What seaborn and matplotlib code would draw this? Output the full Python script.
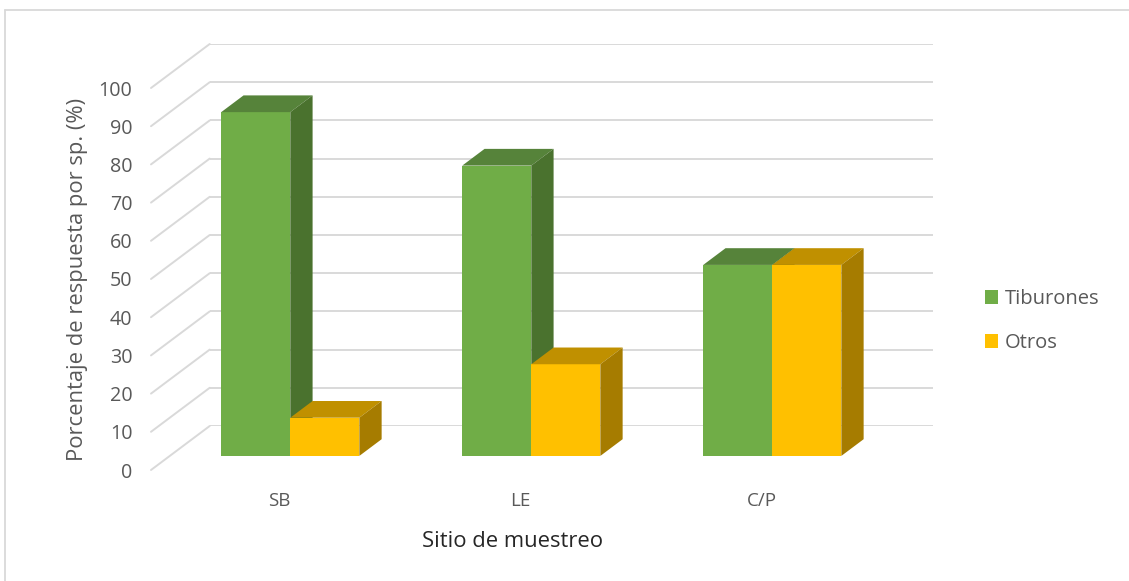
import matplotlib
matplotlib.use("Agg")
import matplotlib.pyplot as plt
from matplotlib.patches import Polygon, Patch
from matplotlib.lines import Line2D
from matplotlib.transforms import ScaledTranslation
import seaborn as sns
import pandas as pd

# Data
sitios = ["SB", "LE", "C/P"]
tiburones = [90, 76, 50]
otros = [10, 24, 50]
grupos = ["Tiburones", "Otros"]
yticks = list(range(0, 101, 10))

sns.set_theme(style="white")
plt.rcParams["font.family"] = ["Open Sans", "DejaVu Sans"]

W, H, DPI = 1129, 581, 100
fig = plt.figure(figsize=(W / DPI, H / DPI), dpi=DPI)
fig.patch.set_facecolor("white")

# colours: front, top, side
faces = {
    "Tiburones": ("#70AD47", "#56833A", "#4A722E"),
    "Otros": ("#FFC000", "#C09000", "#A67C00"),
}
grid_c = "#D9D9D9"
tick_c = "#595959"

# oblique 3-D layout (pixels)
PX_W, PX_H = 723, 382            # plot plane size
FRONT = (151, 470)               # lower-left of front plane
DEPTH = (58.7, -44.0)            # full floor depth shift
BAR_D0, BAR_D1 = 0.32, 0.70      # bar front / back depth fractions


def plane_axes(d, zorder):
    x0 = FRONT[0] + DEPTH[0] * d
    y0 = FRONT[1] + DEPTH[1] * d
    ax = fig.add_axes([x0 / W, 1 - y0 / H, PX_W / W, PX_H / H], zorder=zorder)
    ax.set_xlim(-0.5, 2.5)
    ax.set_ylim(0, 100)
    ax.patch.set_alpha(0)
    for s in ax.spines.values():
        s.set_visible(False)
    return ax


ax_back = plane_axes(1.0, 0)
ax_front = plane_axes(0.0, 1)
ax_bars = plane_axes(BAR_D0, 2)

# back wall grid
ax_back.set_yticks(yticks)
ax_back.set_xticks([])
ax_back.tick_params(left=False, labelleft=False, bottom=False, labelbottom=False)
ax_back.yaxis.grid(True, color=grid_c, lw=1.4)
ax_back.xaxis.grid(False)

# side wall diagonals (front plane data units)
ddx_full = DEPTH[0] / (PX_W / 3)
ddy_full = -DEPTH[1] / (PX_H / 100)
for v in yticks:
    ax_front.add_line(Line2D([-0.5, -0.5 + ddx_full], [v, v + ddy_full],
                             color=grid_c, lw=1.4, clip_on=False))

# axis labels and ticks on the front plane
ax_front.set_yticks(yticks)
ax_front.set_yticklabels([str(v) for v in yticks])
ax_front.set_xticks(range(len(sitios)))
ax_front.set_xticklabels(sitios)
ax_front.tick_params(axis="y", length=0, pad=13.5, labelsize=14.2, labelcolor=tick_c)
ax_front.tick_params(axis="x", length=0, pad=16, labelsize=13.5, labelcolor=tick_c)
ax_front.grid(False)
shift = ScaledTranslation(8 / DPI, 0, fig.dpi_scale_trans)
for lab in ax_front.get_xticklabels():
    lab.set_transform(lab.get_transform() + shift)
ax_front.set_ylabel("Porcentaje de respuesta por sp. (%)", fontsize=15.8, color=tick_c)
ax_front.yaxis.set_label_coords(-0.087, 0.5)
ax_front.set_xlabel("Sitio de muestreo", fontsize=15.8, color="#262626")
ax_front.xaxis.set_label_coords(0.5, -0.16)

# bars
df = pd.DataFrame({
    "Sitio": sitios * 2,
    "Porcentaje": tiburones + otros,
    "Grupo": [grupos[0]] * len(sitios) + [grupos[1]] * len(sitios),
})
sns.barplot(data=df, x="Sitio", y="Porcentaje", hue="Grupo", order=sitios,
            hue_order=grupos, palette=[faces[g][0] for g in grupos],
            saturation=1, width=0.573, gap=0, dodge=True, legend=False,
            linewidth=0, ax=ax_bars)
ax_bars.set_xlim(-0.5, 2.5)
ax_bars.set_ylim(0, 100)
ax_bars.axis("off")

bdx = (BAR_D1 - BAR_D0) * ddx_full
bdy = (BAR_D1 - BAR_D0) * ddy_full
bars = list(ax_bars.patches)
n = len(sitios)
for gi, g in enumerate(grupos):
    front, top, side = faces[g]
    for r in bars[gi * n:(gi + 1) * n]:
        z = 2 + gi
        r.set_zorder(z)
        x, w, h = r.get_x(), r.get_width(), r.get_height()
        ax_bars.add_patch(Polygon([(x, h), (x + w, h), (x + w + bdx, h + bdy), (x + bdx, h + bdy)],
                                  closed=True, fc=top, ec="none", zorder=z + 0.1, clip_on=False))
        ax_bars.add_patch(Polygon([(x + w, 0), (x + w, h), (x + w + bdx, h + bdy), (x + w + bdx, bdy)],
                                  closed=True, fc=side, ec="none", zorder=z + 0.1, clip_on=False))

# legend
handles = [Patch(fc=faces[g][0], ec="none") for g in grupos]
leg = fig.legend(handles, grupos, loc="center left", bbox_to_anchor=(977 / W, 1 - 321 / H),
                 frameon=False, fontsize=14.5, handlelength=0.65, handleheight=0.65,
                 handletextpad=0.35, labelspacing=1.2, borderaxespad=0)
for t in leg.get_texts():
    t.set_color(tick_c)

# chart area border (top and left)
fig.add_artist(Line2D([4.5 / W, 1], [1 - 9.7 / H, 1 - 9.7 / H], color=grid_c, lw=1.3))
fig.add_artist(Line2D([4.5 / W, 4.5 / W], [0, 1 - 9.7 / H], color=grid_c, lw=1.3))

fig.savefig("out.png", dpi=DPI, facecolor="white")
